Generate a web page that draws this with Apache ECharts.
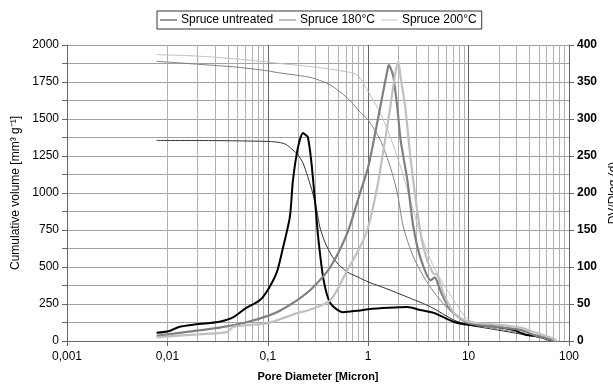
<!DOCTYPE html>
<html>
<head>
<meta charset="utf-8">
<script src="https://cdn.jsdelivr.net/npm/echarts@6/dist/echarts.min.js"></script>
<style>html,body{margin:0;padding:0;background:#fff}#c{width:613px;height:385px}</style>
</head>
<body>
<div id="c"></div>
<script>
// ---- Data (pore diameter in micron) ----
var seriesNames = ['Spruce untreated', 'Spruce 180°C', 'Spruce 200°C'];

// Cumulative volume [mm3 g-1] (left axis)
var cumUntreatedD = [0.0078,0.03,0.08,0.12,0.15,0.178,0.2,0.224,0.25,0.28,0.31,0.33,0.36,0.39,0.44,0.49,0.55,0.62,0.8,1.0,1.5,2.45,4.2,7.1,10,14,19.5,33,50,66];
var cumUntreatedV = [1355,1354,1350,1345,1330,1290,1257,1203,1110,1000,870,770,690,635,570,527,495,466,430,399,355,297,230,142,108,90,74,47,25,0];

var cum180D = [0.0078,0.02,0.05,0.1,0.132,0.2,0.28,0.42,0.62,0.83,1.0,1.32,1.66,1.95,2.24,2.82,3.9,6.0,10,19.5,33,60,70];
var cum180V = [1890,1870,1850,1825,1811,1795,1777,1730,1642,1547,1493,1358,1176,1000,770,568,392,230,122,81,54,20,0];

var cum200D = [0.0078,0.02,0.05,0.1,0.132,0.3,0.62,0.78,0.98,1.32,1.66,2.1,2.63,3.3,4.5,7.1,10,19.5,33,50,71];
var cum200V = [1935,1925,1905,1885,1875,1850,1818,1797,1696,1540,1378,1176,953,730,500,277,142,95,61,35,0];

// DV/Dlog(d) (right axis)
var dvUntreatedD = [0.0078,0.0105,0.013,0.018,0.025,0.033,0.045,0.06,0.083,0.1,0.123,0.14,0.166,0.178,0.2,0.224,0.235,0.25,0.27,0.295,0.32,0.36,0.42,0.56,0.8,1.0,1.6,2.45,3.3,4.5,7.1,10,19.5,28,38,60,66];
var dvUntreatedV = [11,13.5,19,22,24,26,32,44,55,69,93,123,168,217,262,281,279,276,245,190,136,82,51,39,41,43,45,46,42,38,26,22,19,15,8,5,1];

var dv180D = [0.0078,0.015,0.033,0.06,0.1,0.132,0.2,0.28,0.42,0.62,0.83,1.0,1.23,1.42,1.55,1.6,1.68,1.78,1.95,2.1,2.45,2.82,3.3,4.2,4.6,5.2,6.6,10,19.5,33,45,60,70];
var dv180V = [7,12,18,25,34,41,56,72,100,146,200,235,295,339,365,373,368,357,316,272,218,154,113,82,86,69,42,24,19,15,8,4,0];

var dv200D = [0.0078,0.02,0.039,0.045,0.07,0.1,0.2,0.26,0.42,0.62,0.83,1.0,1.23,1.42,1.66,1.86,2.0,2.1,2.34,2.63,3.1,3.6,4.4,4.9,5.6,7.1,10,19.5,33,52,71,75];
var dv200V = [5,9,12,19,22,24,38,42,55,96,127,154,208,258,316,362,377,357,316,249,173,123,92,89,65,38,26,22,18,9,3,0];

// Axis ranges / ticks
var xMin = 0.001, xMax = 100;
var yLeftMax = 2000, yLeftInterval = 250;
var yRightMax = 400, yRightInterval = 50;

function pairs(d, v) { return d.map(function (x, i) { return [x, v[i]]; }); }

// minor log gridlines (2..9 per decade)
var minorGrid = [];
for (var k = -3; k <= 1; k++) {
  for (var m = 2; m <= 9; m++) {
    minorGrid.push({ xAxis: +(m * Math.pow(10, k)).toPrecision(6) });
  }
}

var FONT = 'Liberation Sans, Arial, sans-serif';
var colDark = '#000000', colMid = '#808080', colLight = '#c0c0c0';

function lineSeries(name, data, color, width, yIdx, extra) {
  var s = {
    name: name, type: 'line', data: data, yAxisIndex: yIdx,
    symbol: 'none', showSymbol: false, smooth: 0.25,
    lineStyle: { color: color, width: width },
    itemStyle: { color: color },
    silent: true, z: 3
  };
  if (extra) for (var key in extra) s[key] = extra[key];
  return s;
}

var chart = echarts.init(document.getElementById('c'), null, { renderer: 'canvas' });
chart.setOption({
  animation: false,
  backgroundColor: '#ffffff',
  textStyle: { fontFamily: FONT },
  legend: {
    data: seriesNames,
    left: 157, top: 11,
    padding: [3, 5, 3, 3],
    itemGap: 6, itemWidth: 17, itemHeight: 1,
    icon: 'rect',
    borderColor: '#333', borderWidth: 1,
    textStyle: { fontFamily: FONT, fontSize: 12, color: '#000', padding: [0, 0, 0, -1] }
  },
  grid: { left: 67, right: 44, top: 45, bottom: 44, containLabel: false, outerBoundsMode: 'none' },
  xAxis: {
    type: 'log', logBase: 10, min: xMin, max: xMax,
    name: 'Pore Diameter [Micron]', nameLocation: 'middle', nameGap: 30,
    nameTextStyle: { fontFamily: FONT, fontSize: 11, fontWeight: 'bold', color: '#000' },
    axisLine: { lineStyle: { color: '#666', width: 1 } },
    axisTick: { show: true, inside: false, length: 5, lineStyle: { color: '#666' } },
    axisLabel: {
      fontFamily: FONT, fontSize: 12, color: '#000', margin: 10,
      formatter: function (v) { return String(parseFloat((+v).toPrecision(6))).replace('.', ','); }
    },
    splitLine: { show: true, lineStyle: { color: '#666', width: 1 } }
  },
  yAxis: [
    {
      type: 'value', min: 0, max: yLeftMax, interval: yLeftInterval, position: 'left',
      name: 'Cumulative volume [mm³ g⁻¹]', nameLocation: 'middle', nameGap: 44,
      nameTextStyle: { fontFamily: FONT, fontSize: 12, color: '#000' },
      axisLine: { show: true, lineStyle: { color: '#666' } },
      axisTick: { show: true, length: 5, lineStyle: { color: '#666' } },
      minorTick: { show: true, splitNumber: 2, length: 5, lineStyle: { color: '#666' } },
      axisLabel: { fontFamily: FONT, fontSize: 12, color: '#000', margin: 8,
        formatter: function (v) { return String(v); } },
      splitLine: { show: true, lineStyle: { color: '#a0a0a0', width: 1 } },
      minorSplitLine: { show: true, lineStyle: { color: '#a0a0a0', width: 1 } }
    },
    {
      type: 'value', min: 0, max: yRightMax, interval: yRightInterval, position: 'right',
      name: 'DV/Dlog (d)', nameLocation: 'middle', nameGap: 35, nameRotate: 90,
      nameTextStyle: { fontFamily: FONT, fontSize: 12, color: '#000' },
      axisLine: { show: true, lineStyle: { color: '#666' } },
      axisTick: { show: true, length: 5, lineStyle: { color: '#666' } },
      axisLabel: { fontFamily: FONT, fontSize: 12, fontWeight: 'bold', color: '#000', margin: 8,
        formatter: function (v) { return String(v); } },
      splitLine: { show: false }
    }
  ],
  series: [
    lineSeries(seriesNames[0], pairs(cumUntreatedD, cumUntreatedV), '#333333', 1, 0, {
      markLine: {
        silent: true, symbol: 'none', animation: false,
        label: { show: false },
        lineStyle: { color: '#b0b0b0', width: 1, type: 'solid' },
        data: minorGrid, z: 1
      }
    }),
    lineSeries(seriesNames[1], pairs(cum180D, cum180V), colMid, 1, 0),
    lineSeries(seriesNames[2], pairs(cum200D, cum200V), colLight, 1, 0),
    lineSeries(seriesNames[0], pairs(dvUntreatedD, dvUntreatedV), colDark, 2, 1),
    lineSeries(seriesNames[1], pairs(dv180D, dv180V), colMid, 2.2, 1),
    lineSeries(seriesNames[2], pairs(dv200D, dv200V), colLight, 2.2, 1)
  ]
});
</script>
</body>
</html>
